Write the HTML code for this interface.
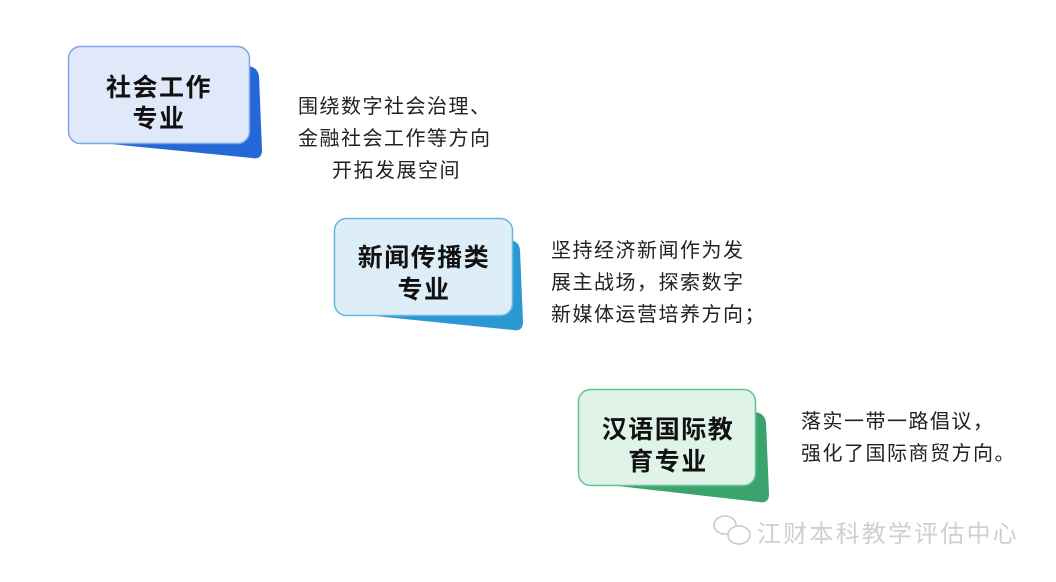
<!DOCTYPE html>
<html><head><meta charset="utf-8"><style>
body{margin:0;background:#fff;}
svg text{font-family:"Liberation Sans","Noto Sans CJK SC",sans-serif;}
</style></head><body>
<svg width="1056" height="577" viewBox="0 0 1056 577" xmlns="http://www.w3.org/2000/svg">
<path d="M90,142 L240,66 Q257,64 259,76 L262,150 Q262,160 252,158 Z" fill="#2467d6"/>
<rect x="68.5" y="46.5" width="181" height="97" rx="12" fill="#dfe9f9" stroke="#7ea5e6" stroke-width="1.5"/>
<path d="M355,314 L502,240 Q519,238 520,250 L523,322 Q523,332 513,330 Z" fill="#2b98d3"/>
<rect x="334.5" y="218.5" width="178" height="97" rx="12" fill="#ddeef8" stroke="#66b6e2" stroke-width="1.5"/>
<path d="M600,484 L747,412 Q764,410 766,422 L769,494 Q769,504 759,502 Z" fill="#3aa36e"/>
<rect x="578.5" y="389.5" width="177" height="96" rx="12" fill="#dff3e8" stroke="#66c494" stroke-width="1.5"/>
<g font-size="25" font-weight="bold" text-anchor="middle" fill="#111" letter-spacing="1.5">
<text x="159" y="96">社会工作</text>
<text x="159" y="127">专业</text>
<text x="424" y="266">新闻传播类</text>
<text x="424" y="298">专业</text>
<text x="668" y="438">汉语国际教</text>
<text x="668" y="470">育专业</text>
</g>
<g font-size="20" fill="#222" letter-spacing="1.5">
<text x="298" y="113">围绕数字社会治理、</text>
<text x="298" y="145">金融社会工作等方向</text>
<text x="332" y="177">开拓发展空间</text>
<text x="551" y="257">坚持经济新闻作为发</text>
<text x="551" y="289">展主战场，探索数字</text>
<text x="551" y="321">新媒体运营培养方向；</text>
<text x="801" y="428">落实一带一路倡议，</text>
<text x="801" y="460">强化了国际商贸方向。</text>
</g>
<g fill="none" stroke="#c8c8c8" stroke-width="1.5">
<ellipse cx="725" cy="525" rx="11" ry="9"/>
<ellipse cx="739" cy="535" rx="11" ry="9" fill="#fff"/>
</g>
<text x="757" y="542" font-size="24" letter-spacing="2.2" fill="#cfcfcf">江财本科教学评估中心</text>
</svg>
</body></html>
